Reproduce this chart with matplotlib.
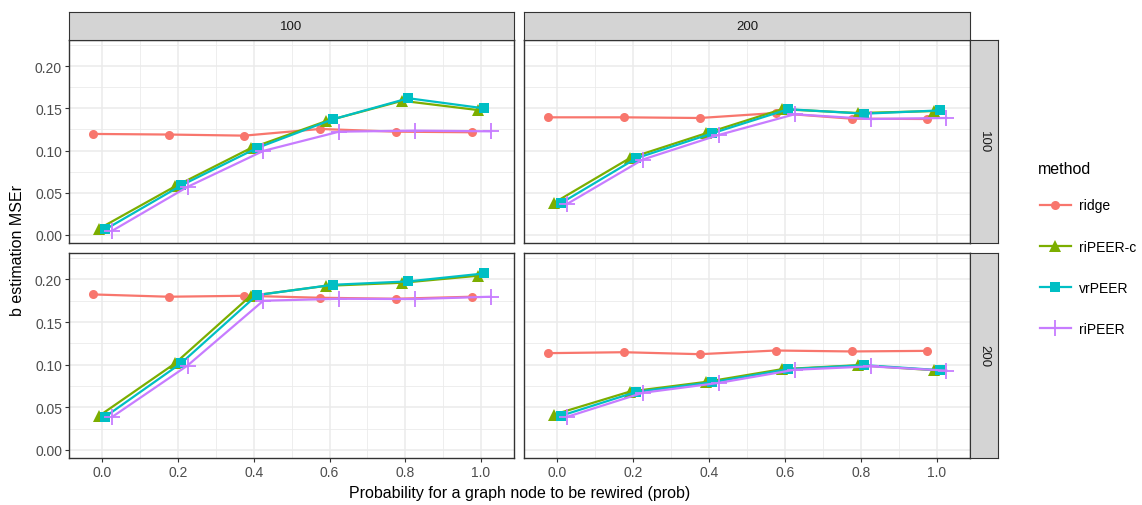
import numpy as np
import matplotlib
matplotlib.use("Agg")
import matplotlib.pyplot as plt
from matplotlib.lines import Line2D

plt.rcParams['font.family'] = ['Liberation Sans', 'DejaVu Sans']

# data
prob = [0.0, 0.2, 0.4, 0.6, 0.8, 1.0]
methods = ["ridge", "riPEER-c", "vrPEER", "riPEER"]
col_labels = ["100", "200"]
row_labels = ["100", "200"]

# panel (row, col) -> method -> values
ridge_11 = [0.1197, 0.1190, 0.1177, 0.1256, 0.1224, 0.1217]
ripeerc_11 = [0.0075, 0.0575, 0.1028, 0.1350, 0.1590, 0.1480]
vrpeer_11 = [0.0067, 0.0587, 0.1030, 0.1370, 0.1620, 0.1500]
ripeer_11 = [0.0047, 0.0570, 0.0996, 0.1224, 0.1236, 0.1228]

ridge_12 = [0.1394, 0.1394, 0.1386, 0.1445, 0.1378, 0.1374]
ripeerc_12 = [0.0382, 0.0913, 0.1205, 0.1490, 0.1445, 0.1468]
vrpeer_12 = [0.0374, 0.0910, 0.1205, 0.1490, 0.1437, 0.1476]
ripeer_12 = [0.0366, 0.0894, 0.1185, 0.1430, 0.1374, 0.1386]

ridge_21 = [0.1824, 0.1797, 0.1808, 0.1785, 0.1773, 0.1797]
ripeerc_21 = [0.0399, 0.1014, 0.1808, 0.1925, 0.1961, 0.2043]
vrpeer_21 = [0.0391, 0.1018, 0.1816, 0.1937, 0.1977, 0.2070]
ripeer_21 = [0.0384, 0.0990, 0.1750, 0.1773, 0.1770, 0.1797]

ridge_22 = [0.1135, 0.1146, 0.1123, 0.1166, 0.1155, 0.1162]
ripeerc_22 = [0.0415, 0.0685, 0.0798, 0.0947, 0.0994, 0.0935]
vrpeer_22 = [0.0399, 0.0681, 0.0794, 0.0947, 0.0994, 0.0935]
ripeer_22 = [0.0387, 0.0670, 0.0786, 0.0940, 0.0980, 0.0930]

panels = {
    (0, 0): [ridge_11, ripeerc_11, vrpeer_11, ripeer_11],
    (0, 1): [ridge_12, ripeerc_12, vrpeer_12, ripeer_12],
    (1, 0): [ridge_21, ripeerc_21, vrpeer_21, ripeer_21],
    (1, 1): [ridge_22, ripeerc_22, vrpeer_22, ripeer_22],
}

colors = ["#F8766D", "#7CAE00", "#00BFC4", "#C77CFF"]
markers = ["o", "^", "s", "+"]
msizes = [6.5, 8, 7, 11]
dodge = [-0.025, -0.0083, 0.0083, 0.025]

W, H = 1142, 506
fig = plt.figure(figsize=(W / 100, H / 100), dpi=100)

def px_axes(x0, y0, x1, y1, **kw):
    return fig.add_axes([x0 / W, 1 - y1 / H, (x1 - x0) / W, (y1 - y0) / H], **kw)

col_x = [(69, 514), (524, 970)]
row_y = [(41, 244), (254, 459)]
strip_top = (13, 41)
strip_right = (970, 998)
border = "#333333"
strip_fill = "#D4D4D4"

for (r, c), series in panels.items():
    x0, x1 = col_x[c]
    y0, y1 = row_y[r]
    ax = px_axes(x0, y0, x1, y1)
    ax.set_xlim(-0.088, 1.087)
    ax.set_ylim(-0.0095, 0.231)
    ax.set_xticks(prob)
    ax.set_xticks([0.1, 0.3, 0.5, 0.7, 0.9], minor=True)
    ax.set_yticks([0.0, 0.05, 0.10, 0.15, 0.20])
    ax.set_yticks([0.025, 0.075, 0.125, 0.175, 0.225], minor=True)
    ax.grid(True, which="major", color="#EBEBEB", lw=1.1, zorder=0)
    ax.grid(True, which="minor", color="#EBEBEB", lw=0.6, zorder=0)
    ax.set_axisbelow(True)
    for sp in ax.spines.values():
        sp.set_color(border)
        sp.set_linewidth(1.0)
    ax.tick_params(which="major", length=3, width=0.8, color=border,
                   labelsize=10, labelcolor="#4D4D4D", pad=2)
    ax.tick_params(which="minor", length=0)
    if c == 1:
        ax.tick_params(axis="y", labelleft=False, length=0)
    else:
        ax.set_yticklabels(["0.00", "0.05", "0.10", "0.15", "0.20"])
    if r == 0:
        ax.tick_params(labelbottom=False, length=0, axis="x")
    for k, vals in enumerate(series):
        xs = np.array(prob) + dodge[k]
        ax.plot(xs, vals, color=colors[k], lw=1.6, marker=markers[k],
                ms=msizes[k], mew=1.3 if markers[k] == "+" else 0, zorder=3 + k)

    # top strips
    if r == 0:
        sax = px_axes(x0, strip_top[0], x1, strip_top[1])
        sax.set_facecolor(strip_fill)
        sax.set_xticks([]); sax.set_yticks([])
        for sp in sax.spines.values():
            sp.set_color(border)
        sax.text(0.5, 0.5, col_labels[c], ha="center", va="center",
                 fontsize=9.5, color="#1A1A1A", transform=sax.transAxes)
    # right strips
    if c == 1:
        sax = px_axes(strip_right[0], y0, strip_right[1], y1)
        sax.set_facecolor(strip_fill)
        sax.set_xticks([]); sax.set_yticks([])
        for sp in sax.spines.values():
            sp.set_color(border)
        sax.text(0.5, 0.5, row_labels[r], ha="center", va="center", rotation=-90,
                 fontsize=9.5, color="#1A1A1A", transform=sax.transAxes)

fig.text(520 / W, 1 - 494 / H, "Probability for a graph node to be rewired (prob)",
         ha="center", va="center", fontsize=11.5)
fig.text(18 / W, 1 - 250 / H, "b estimation MSEr", ha="center", va="center",
         rotation=90, fontsize=11.5)

# legend (title drawn separately so the gap to the first key matches)
fig.text(1038 / W, 1 - 169 / H, "method", ha="left", va="center", fontsize=11.5)
handles = [Line2D([0], [0], color=colors[k], lw=1.6, marker=markers[k], ms=msizes[k],
                  mew=1.3 if markers[k] == "+" else 0) for k in range(4)]
leg = fig.legend(handles, methods, loc="upper left",
                 bbox_to_anchor=(1027 / W, 1 - 187 / H), frameon=False,
                 fontsize=10, labelspacing=1.95,
                 handlelength=2.3, handletextpad=0.55)

fig.savefig("out.png", dpi=100)
